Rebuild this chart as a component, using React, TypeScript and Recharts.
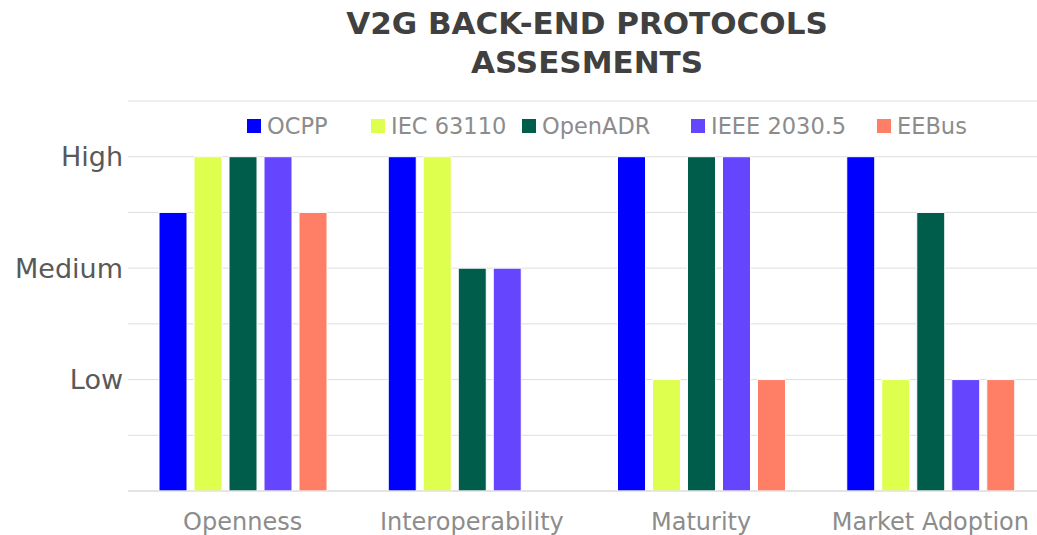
import React from 'react';
import { BarChart, Bar, XAxis, YAxis, CartesianGrid } from 'recharts';

const categories = ['Openness', 'Interoperability', 'Maturity', 'Market Adoption'];
const ocpp = [2.5, 3, 3, 3];
const iec63110 = [3, 3, 1, 1];
const openAdr = [3, 2, 3, 2.5];
const ieee2030 = [3, 2, 3, 1];
const eeBus = [2.5, 0, 1, 1];

const seriesNames = ['OCPP', 'IEC 63110', 'OpenADR', 'IEEE 2030.5', 'EEBus'];
const seriesKeys = ['ocpp', 'iec', 'openadr', 'ieee', 'eebus'];
const COLORS = ['#0000FF', '#DFFF4F', '#005C4B', '#6645FF', '#FF7F66'];

const yTicks = [0, 0.5, 1, 1.5, 2, 2.5, 3, 3.5];
const levelLabels: Record<number, string> = { 1: 'Low', 2: 'Medium', 3: 'High' };

const data = categories.map((name, i) => ({
    name,
    ocpp: ocpp[i],
    iec: iec63110[i],
    openadr: openAdr[i],
    ieee: ieee2030[i],
    eebus: eeBus[i],
}));

const FONT = '"DejaVu Sans", sans-serif';
// left edge of each legend swatch, as in the original layout
const legendX = [247, 371, 522, 691, 877];

const ChartLegend = () => (
    <div style={{ position: 'absolute', left: 0, top: 112, fontFamily: FONT, fontSize: 22.5, lineHeight: '28px', color: '#8c8c8c' }}>
        {seriesNames.map((name, i) => (
            <div
                key={name}
                style={{ position: 'absolute', left: legendX[i], top: 0, display: 'flex', alignItems: 'center', whiteSpace: 'nowrap' }}
            >
                <span style={{ width: 14, height: 14, background: COLORS[i], marginRight: 6, display: 'inline-block' }} />
                {name}
            </div>
        ))}
    </div>
);

export default function App() {
    return (
        <div style={{ position: 'absolute', left: 0, top: 0, width: 1037, height: 535, overflow: 'hidden', background: '#fff' }}>
            <div
                style={{
                    position: 'absolute',
                    left: 287,
                    width: 600,
                    top: 4,
                    textAlign: 'center',
                    fontFamily: FONT,
                    fontWeight: 'bold',
                    fontSize: 31,
                    lineHeight: '39px',
                    color: '#404040',
                }}
            >
                V2G BACK-END PROTOCOLS
                <br />
                ASSESMENTS
            </div>
            <BarChart
                width={1045}
                height={535}
                data={data}
                margin={{ top: 101, right: 0, bottom: 0, left: 0 }}
                barGap={7}
                barSize={28}
            >
                <CartesianGrid vertical={false} stroke="#dedede" />
                <XAxis
                    dataKey="name"
                    height={44}
                    axisLine={{ stroke: '#d9d9d9' }}
                    tickLine={false}
                    tick={{ fill: '#8c8c8c', fontSize: 24, fontFamily: FONT }}
                    tickMargin={16}
                />
                <YAxis
                    width={128}
                    domain={[0, 3.5]}
                    ticks={yTicks}
                    interval={0}
                    axisLine={false}
                    tickLine={false}
                    tickFormatter={(v: number) => levelLabels[v] || ''}
                    tick={{ fill: '#595959', fontSize: 27, fontFamily: FONT }}
                    tickMargin={-1}
                />
                {seriesKeys.map((key, i) => (
                    <Bar
                        key={key}
                        dataKey={key}
                        name={seriesNames[i]}
                        fill={COLORS[i]}
                        stroke="#fff"
                        strokeWidth={1}
                        isAnimationActive={false}
                    />
                ))}
            </BarChart>
            <ChartLegend />
        </div>
    );
}
